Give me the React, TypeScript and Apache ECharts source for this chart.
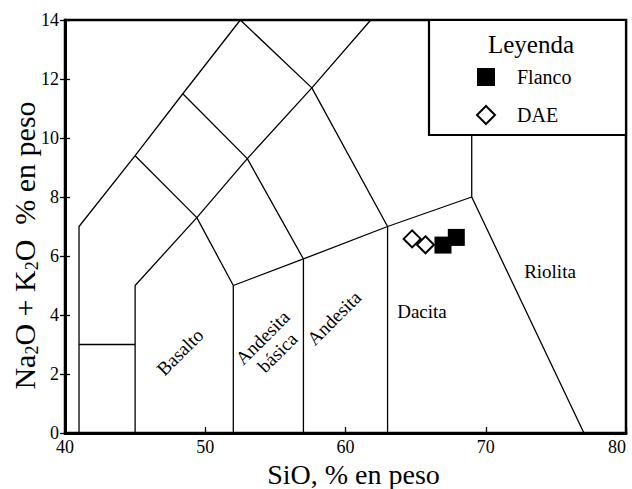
import React, { useEffect, useRef } from "react";
import * as echarts from "echarts";

const FONT = "Liberation Serif";

// TAS field boundaries (SiO2, Na2O+K2O)
const boundary1 = [[41, 0], [41, 7], [45, 9.4], [48.4, 11.5], [52.5, 14]];
const boundary2 = [[41, 3], [45, 3]];
const boundary3 = [[45, 0], [45, 5], [49.4, 7.3], [53, 9.3], [57.6, 11.7], [61.8, 14]];
const boundary4 = [[45, 9.4], [49.4, 7.3], [52, 5], [52, 0]];
const boundary5 = [[48.4, 11.5], [53, 9.3], [57, 5.9], [57, 0]];
const boundary6 = [[52.5, 14], [57.6, 11.7], [63, 7], [63, 0]];
const boundary7 = [[52, 5], [57, 5.9], [63, 7], [69, 8], [77, 0]];
const boundary8 = [[69, 8], [69, 13]];
const boundaries = [boundary1, boundary2, boundary3, boundary4, boundary5, boundary6, boundary7, boundary8];

// Samples
const flancoSiO2 = [66.95, 67.9];
const flancoAlk = [6.37, 6.63];
const daeSiO2 = [64.75, 65.7];
const daeAlk = [6.58, 6.38];

const xTicks = [40, 50, 60, 70, 80];
const yTicks = [0, 2, 4, 6, 8, 10, 12, 14];

export default function App() {
  const ref = useRef<HTMLDivElement>(null);
  useEffect(() => {
    if (!ref.current) return;
    const chart = echarts.init(ref.current, null, { renderer: "svg" });
    const lineSeries = boundaries.map((b, i) => ({
      type: "line",
      name: "b" + i,
      data: b,
      symbol: "none",
      silent: true,
      lineStyle: { color: "#000", width: 1.3 },
      z: 2,
      legendHoverLink: false,
    }));
    const option: any = {
      animation: false,
      backgroundColor: "#fff",
      textStyle: { fontFamily: FONT },
      grid: {
        left: 65, right: 6, top: 20, bottom: 56,
        outerBoundsMode: "none",
        containLabel: false,
        show: true, borderColor: "#000", borderWidth: 2.5, backgroundColor: "transparent",
      },
      xAxis: {
        type: "value", min: xTicks[0], max: xTicks[xTicks.length - 1], interval: 10,
        splitLine: { show: false },
        axisLine: { lineStyle: { color: "#000", width: 3 } },
        axisTick: { inside: true, length: 6, lineStyle: { color: "#000", width: 1.3 } },
        axisLabel: {
          color: "#000", fontSize: 18, fontFamily: FONT, margin: 5,
          alignMinLabel: "center", alignMaxLabel: "right",
        },
        name: "SiO, % en peso",
        nameLocation: "middle",
        nameGap: 27,
        nameMoveOverlap: false,
        nameTextStyle: { color: "#000", fontSize: 28, fontFamily: FONT, padding: [0, 0, 0, 16] },
      },
      yAxis: [
        {
          type: "value", min: yTicks[0], max: yTicks[yTicks.length - 1], interval: 2,
          splitLine: { show: false },
          axisLine: { lineStyle: { color: "#000", width: 3 } },
          axisTick: { inside: false, length: 5, lineStyle: { color: "#000", width: 1.3 } },
          axisLabel: { color: "#000", fontSize: 18, fontFamily: FONT, margin: 6, verticalAlign: "middle" },
          name: "{a|Na}{s|2}{a|O + K}{s|2}{a|O  % en peso}",
          nameLocation: "middle",
          nameGap: 24,
          nameMoveOverlap: false,
          nameTextStyle: {
            color: "#000", fontFamily: FONT,
            padding: [0, 38, 0, 0],
            rich: {
              a: { fontSize: 30, fontFamily: FONT, color: "#000" },
              s: { fontSize: 18, fontFamily: FONT, color: "#000", padding: [16, 0, 0, 0] },
            },
          },
        },
        {
          type: "value", min: yTicks[0], max: yTicks[yTicks.length - 1], interval: 2,
          position: "left",
          splitLine: { show: false },
          axisLine: { show: false },
          axisTick: { inside: true, length: 5, lineStyle: { color: "#000", width: 1.3 } },
          axisLabel: { show: false },
        },
      ],
      legend: {
        orient: "vertical",
        left: 471,
        top: 62,
        itemWidth: 18,
        itemHeight: 18,
        itemGap: 18,
        z: 10,
        data: [
          { name: "Flanco", icon: "rect" },
          { name: "DAE", icon: "diamond" },
        ],
        textStyle: { color: "#000", fontSize: 20, fontFamily: FONT, padding: [0, 0, 0, 17] },
      },
      graphic: [
        {
          type: "rect", z: 5,
          shape: { x: 429, y: 20, width: 197, height: 115 },
          style: { fill: "#fff", stroke: "#000", lineWidth: 2.2 },
        },
        {
          type: "text", z: 6, x: 531, y: 44,
          style: { text: "Leyenda", fontSize: 25, fontFamily: FONT, fill: "#000", align: "center", verticalAlign: "middle" },
        },
        {
          type: "text", z: 6, x: 180, y: 352, rotation: Math.PI / 4,
          style: { text: "Basalto", fontSize: 19, fontFamily: FONT, fill: "#000", align: "center", verticalAlign: "middle" },
        },
        {
          type: "text", z: 6, x: 270, y: 345, rotation: Math.PI / 4,
          style: { text: "Andesita\nbásica", fontSize: 19, lineHeight: 21, fontFamily: FONT, fill: "#000", align: "center", verticalAlign: "middle" },
        },
        {
          type: "text", z: 6, x: 334, y: 318, rotation: Math.PI / 4,
          style: { text: "Andesita", fontSize: 19, fontFamily: FONT, fill: "#000", align: "center", verticalAlign: "middle" },
        },
        {
          type: "text", z: 6, x: 422, y: 311,
          style: { text: "Dacita", fontSize: 19, fontFamily: FONT, fill: "#000", align: "center", verticalAlign: "middle" },
        },
        {
          type: "text", z: 6, x: 550, y: 271,
          style: { text: "Riolita", fontSize: 19, fontFamily: FONT, fill: "#000", align: "center", verticalAlign: "middle" },
        },
      ],
      series: [
        ...lineSeries,
        {
          type: "scatter",
          name: "Flanco",
          symbol: "rect",
          symbolSize: 17,
          data: flancoSiO2.map((x, i) => [x, flancoAlk[i]]),
          itemStyle: { color: "#000", borderColor: "#000", borderWidth: 0, opacity: 1 },
          z: 4,
        },
        {
          type: "scatter",
          name: "DAE",
          symbol: "diamond",
          symbolSize: 17,
          data: daeSiO2.map((x, i) => [x, daeAlk[i]]),
          itemStyle: { color: "#fff", borderColor: "#000", borderWidth: 2, opacity: 1 },
          z: 4,
        },
      ],
    };
    chart.setOption(option);
    return () => chart.dispose();
  }, []);
  return (
    <div
      ref={ref}
      style={{ position: "fixed", left: 0, top: 0, width: 632, height: 489, background: "#fff" }}
    />
  );
}
